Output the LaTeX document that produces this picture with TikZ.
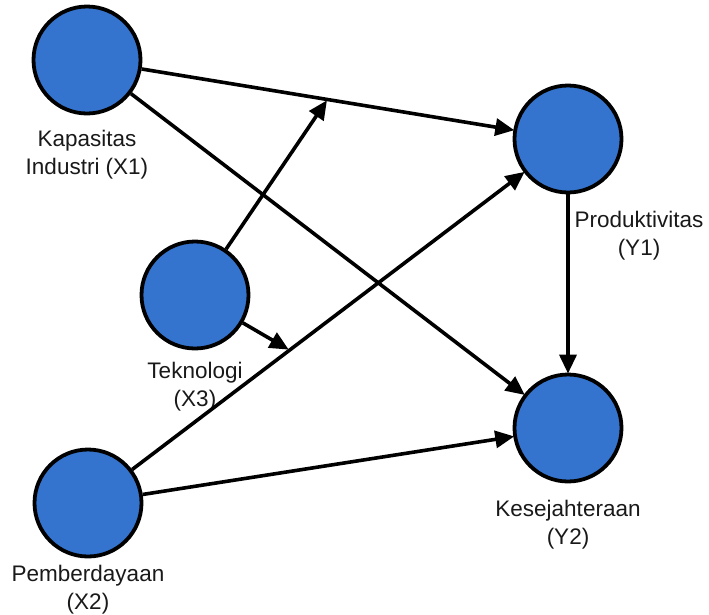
\documentclass[tikz,border=0pt]{standalone}
\usepackage{fontspec}
\setmainfont{Liberation Sans}
\usetikzlibrary{positioning, arrows.meta, calc}
\definecolor{varblue}{RGB}{53,116,206}
\definecolor{txt}{RGB}{25,25,25}
\begin{document}
\begin{tikzpicture}[x=1pt, y=-1pt,
        var/.style={circle, draw=black, fill=varblue, line width=3.8pt, minimum size=107pt, inner sep=0pt},
        lbl/.style={align=center, text=txt, inner sep=0pt, font=\fontsize{22.5}{28}\selectfont},
        path/.style={line width=3.6pt, -{Triangle[length=19pt, width=17pt]}, shorten >=-1pt}]
        \useasboundingbox (0,0) rectangle (709,614);
        \node[var] (X1) at (87,60) {};
        \node[var] (X3) at (195,295) {};
        \node[var] (X2) at (88,503) {};
        \node[var] (Y1) at (568,139) {};
        \node[var] (Y2) at (568,428) {};

        \node[lbl, below=15pt of X1] (lX1) {Kapasitas\\Industri (X1)};
        \node[lbl, below=12pt of X3] (lX3) {Teknologi\\(X3)};
        \node[lbl, below=7pt of X2] (lX2) {Pemberdayaan\\(X2)};
        \node[lbl, below=17pt of Y1, xshift=71pt] (lY1) {Produktivitas\\(Y1)};
        \node[lbl, below=17pt of Y2] (lY2) {Kesejahteraan\\(Y2)};

        % direct paths
        \draw[path] (X1) -- (Y1);
        \draw[path] (X1) -- (Y2);
        \draw[path] (X2) -- (Y1);
        \draw[path] (X2) -- (Y2);
        \draw[path] (Y1) -- (Y2);

        % moderation
        \coordinate (m1) at ($(X1)!0.5!(Y1)$);
        \coordinate (m2) at ($(X2)!0.42!(Y1)$);
        \draw[path, shorten >=1pt] (X3) -- (m1);
        \draw[path, shorten >=1pt] (X3) -- (m2);
\end{tikzpicture}
\end{document}
